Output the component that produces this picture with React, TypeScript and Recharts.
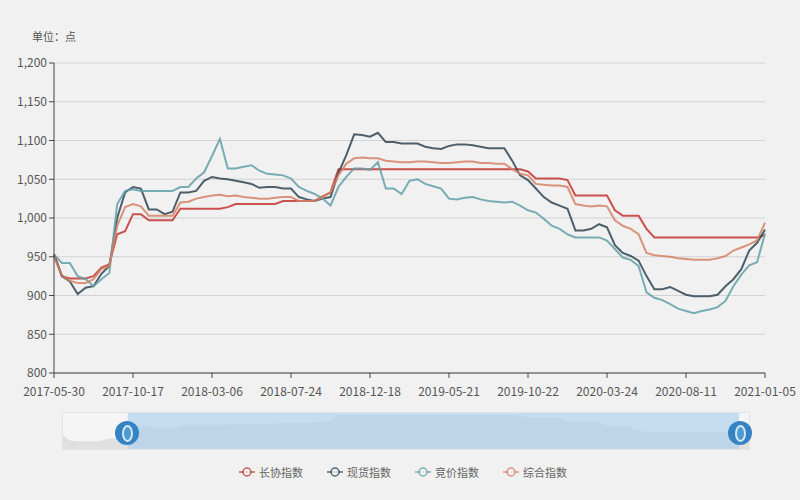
import React from 'react';
import {
  LineChart, Line, XAxis, YAxis, CartesianGrid, Legend,
  AreaChart, Area, ReferenceArea,
} from 'recharts';

// Tick labels of the category axis (one every 10 data points)
const tickLabels = [
  '2017-05-30', '2017-10-17', '2018-03-06', '2018-07-24', '2018-12-18',
  '2019-05-21', '2019-10-22', '2020-03-24', '2020-08-11', '2021-01-05',
];

const seriesNames = ['长协指数', '现货指数', '竞价指数', '综合指数'];
const seriesKeys = ['changxie', 'xianhuo', 'jingjia', 'zonghe'];
const seriesColors = ['#c23531', '#2f4554', '#61a0a8', '#d48265'];

// 长协指数
const changxie = [
  953, 925, 922, 922, 922, 925, 936, 940, 979, 983,
  1005, 1005, 997, 997, 997, 997, 1012, 1012, 1012, 1012,
  1012, 1012, 1014, 1018, 1018, 1018, 1018, 1018, 1018, 1022,
  1022, 1022, 1022, 1022, 1028, 1033, 1063, 1063, 1063, 1063,
  1063, 1063, 1063, 1063, 1063, 1063, 1063, 1063, 1063, 1063,
  1063, 1063, 1063, 1063, 1063, 1063, 1063, 1063, 1063, 1063,
  1060, 1051, 1051, 1051, 1051, 1049, 1029, 1029, 1029, 1029,
  1029, 1010, 1003, 1003, 1003, 986, 975, 975, 975, 975,
  975, 975, 975, 975, 975, 975, 975, 975, 975, 975,
  978,
];

// 现货指数
const xianhuo = [
  953, 925, 918, 902, 910, 912, 928, 938, 1000, 1033,
  1040, 1038, 1011, 1011, 1005, 1008, 1033, 1033, 1035, 1048,
  1053, 1051, 1050, 1048, 1046, 1044, 1039, 1040, 1040, 1038,
  1038, 1027, 1024, 1022, 1025, 1027, 1058, 1081, 1108, 1107,
  1105, 1110, 1098, 1098, 1096, 1096, 1096, 1092, 1090, 1089,
  1093, 1095, 1095, 1094, 1092, 1090, 1090, 1090, 1074, 1055,
  1049, 1038, 1027, 1020, 1016, 1012, 984, 984, 986, 992,
  988, 965, 955, 951, 945, 925, 908, 908, 911, 906,
  901, 899, 899, 899, 901, 912, 921, 934, 958, 968,
  985,
];

// 竞价指数
const jingjia = [
  953, 942, 942, 925, 921, 912, 921, 929, 1018, 1035,
  1037, 1035, 1035, 1035, 1035, 1035, 1040, 1040, 1051, 1059,
  1080, 1102, 1064, 1064, 1066, 1068, 1061, 1057, 1056, 1055,
  1051, 1040, 1035, 1031, 1025, 1016, 1040, 1053, 1064, 1064,
  1062, 1072, 1038, 1038, 1031, 1048, 1050, 1044, 1041, 1038,
  1025, 1024, 1026, 1027, 1024, 1022, 1021, 1020, 1021, 1016,
  1010, 1007, 999, 990, 986, 979, 975, 975, 975, 975,
  971, 960, 949, 946, 938, 904, 897, 894, 889, 883,
  880, 877, 880, 882, 885, 893, 912, 927, 939, 943,
  980,
];

// 综合指数
const zonghe = [
  950, 926, 919, 916, 916, 921, 934, 938, 990, 1014,
  1018, 1015, 1003, 1003, 1003, 1003, 1020, 1021, 1025, 1027,
  1029, 1030, 1028, 1029, 1027, 1026, 1025, 1025, 1026, 1027,
  1027, 1022, 1022, 1022, 1027, 1033, 1055, 1070, 1077, 1078,
  1077, 1077, 1074, 1073, 1072, 1072, 1073, 1073, 1072, 1071,
  1071, 1072, 1073, 1073, 1071, 1071, 1070, 1070, 1063, 1057,
  1055, 1044, 1043, 1042, 1042, 1040, 1018, 1016, 1015, 1016,
  1015, 997, 990, 986, 979, 955, 952, 951, 950, 948,
  947, 946, 946, 946, 948, 951, 958, 962, 966, 971,
  994,
];

const yTicks = [800, 850, 900, 950, 1000, 1050, 1100, 1150, 1200];

const rows = changxie.map((v, i) => ({
  i,
  changxie: v,
  xianhuo: xianhuo[i],
  jingjia: jingjia[i],
  zonghe: zonghe[i],
}));

const xTicks = tickLabels.map((_, k) => k * 10);

const FONT = "'Noto Sans CJK SC', 'Noto Sans', sans-serif";

const LegendContent = () => (
  <div style={{ display: 'flex', justifyContent: 'center', alignItems: 'center', height: 20, paddingLeft: 6 }}>
    {seriesNames.map((name, k) => (
      <div key={name} style={{ display: 'flex', alignItems: 'center', marginRight: k < 3 ? 24 : 0 }}>
        <svg width={16} height={12} style={{ marginRight: 4 }}>
          <line x1={0} y1={6} x2={16} y2={6} stroke={seriesColors[k]} strokeWidth={1.5} opacity={0.8} />
          <circle cx={8} cy={6} r={4} fill="#f1f1f1" stroke={seriesColors[k]} strokeWidth={1.5} opacity={0.8} />
        </svg>
        <span style={{ fontSize: 11, color: '#666', fontFamily: FONT }}>{name}</span>
      </div>
    ))}
  </div>
);

const UnitLabel = () => (
  <text x={54} y={41} textAnchor="middle" fontSize={11} fill="#555" fontFamily={FONT}>
    单位：点
  </text>
);

const Handle = ({ left }: { left: number }) => (
  <div
    style={{
      position: 'absolute', left: left - 12, top: 421, width: 24, height: 24,
      borderRadius: '50%', background: '#3583c2',
      display: 'flex', alignItems: 'center', justifyContent: 'center',
    }}
  >
    <div style={{ width: 7, height: 13, borderRadius: '50%', border: '2px solid #d6e8f5', background: '#4b9ad2' }} />
  </div>
);

export default function App() {
  return (
    <div
      style={{
        position: 'absolute', left: 0, top: 0, width: 800, height: 500,
        background: '#f1f1f1', overflow: 'hidden', fontFamily: FONT,
      }}
    >
      <LineChart
        width={800}
        height={500}
        data={rows}
        margin={{ top: 63, right: 35, bottom: 0, left: 0 }}
      >
        <CartesianGrid vertical={false} stroke="#d2d2d2" />
        <XAxis
          type="number"
          dataKey="i"
          domain={[0, 90]}
          ticks={xTicks}
          tickFormatter={(v: number) => tickLabels[Math.round(v / 10)]}
          height={127}
          tickSize={5}
          tickMargin={9}
          axisLine={{ stroke: '#444' }}
          tickLine={{ stroke: '#444' }}
          tick={{ fontSize: 12, fill: '#555', fontFamily: FONT }}
          interval={0}
        />
        <YAxis
          domain={[800, 1200]}
          ticks={yTicks}
          width={54}
          tickSize={5}
          tickMargin={2}
          axisLine={{ stroke: '#444' }}
          tickLine={{ stroke: '#444' }}
          tickFormatter={(v: number) => v.toLocaleString('en-US')}
          tick={{ fontSize: 12, fill: '#555', fontFamily: FONT }}
          label={{ content: () => <UnitLabel /> }}
        />
        <Legend
          verticalAlign="middle"
          align="center"
          wrapperStyle={{ top: 462, left: 0, width: 800, height: 20 }}
          content={() => <LegendContent />}
        />
        {seriesKeys.map((k, idx) => (
          <Line
            key={k}
            type="linear"
            dataKey={k}
            name={seriesNames[idx]}
            stroke={seriesColors[idx]}
            strokeWidth={2}
            strokeOpacity={0.85}
            dot={false}
            isAnimationActive={false}
          />
        ))}
      </LineChart>

      {/* data zoom slider */}
      <div style={{ position: 'absolute', left: 62, top: 412, width: 688, height: 38, background: '#f5f5f5', border: '1px solid #e4e4e4', boxSizing: 'border-box' }}>
        <AreaChart width={686} height={36} data={rows} margin={{ top: 0, right: 0, bottom: 0, left: 0 }}>
          <XAxis type="number" dataKey="i" domain={[0, 90]} hide />
          <YAxis domain={[880, 1075]} hide />
          <Area
            type="linear"
            dataKey="changxie"
            stroke="none"
            fill="#d2d2d2"
            fillOpacity={0.6}
            isAnimationActive={false}
          />
          <ReferenceArea x1={8.5} x2={88.7} y1={880} y2={1075} fill="#a6cdee" fillOpacity={0.6} stroke="none" />
        </AreaChart>
      </div>
      <Handle left={127} />
      <Handle left={740} />
    </div>
  );
}
